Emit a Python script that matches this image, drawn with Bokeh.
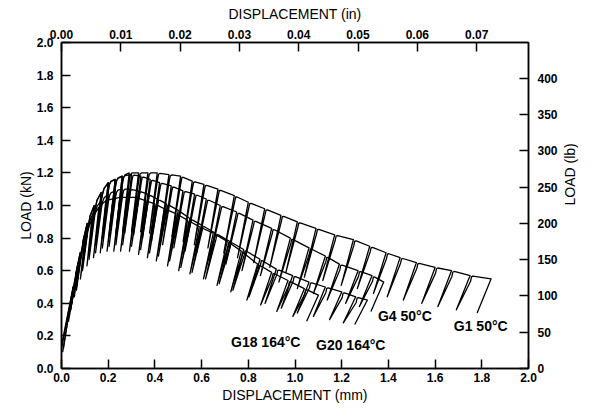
import math
from bokeh.plotting import figure
from bokeh.models import Range1d, LinearAxis, FixedTicker, PrintfTickFormatter, ColumnDataSource
from bokeh.core.properties import value
from bokeh.embed import file_html
from bokeh.resources import INLINE

# ---------------- data ----------------
mm_ticks = [0.0, 0.2, 0.4, 0.6, 0.8, 1.0, 1.2, 1.4, 1.6, 1.8, 2.0]
kn_ticks = [0.0, 0.2, 0.4, 0.6, 0.8, 1.0, 1.2, 1.4, 1.6, 1.8, 2.0]
in_ticks = [0.00, 0.01, 0.02, 0.03, 0.04, 0.05, 0.06, 0.07]
lb_ticks = [0, 50, 100, 150, 200, 250, 300, 350, 400]

# G1 50°C
g1_start = (0.0, 0.12)
g1_peak_x = [0.05, 0.08, 0.11, 0.14, 0.17, 0.20, 0.23, 0.26, 0.29, 0.33, 0.37, 0.41, 0.46, 0.51, 0.56, 0.61, 0.67,
             0.74, 0.80, 0.87, 0.94, 1.01, 1.09, 1.17, 1.25, 1.32, 1.39, 1.45, 1.52, 1.60, 1.67, 1.75, 1.84]
g1_peak_y = [0.50, 0.71, 0.89, 1.00, 1.08, 1.14, 1.16, 1.18, 1.20, 1.20, 1.20, 1.20, 1.19, 1.18, 1.15, 1.13, 1.10,
             1.06, 1.02, 0.98, 0.94, 0.90, 0.86, 0.82, 0.79, 0.75, 0.71, 0.68, 0.65, 0.62, 0.60, 0.57, 0.55]
g1_trough_x = [0.038, 0.064, 0.09, 0.118, 0.146, 0.175, 0.204, 0.233, 0.262, 0.30, 0.339, 0.377, 0.425, 0.473,
               0.521, 0.569, 0.627, 0.695, 0.754, 0.823, 0.892, 0.961, 1.04, 1.119, 1.198, 1.267, 1.336, 1.395,
               1.464, 1.543, 1.612, 1.691, 1.78]
g1_trough_y = [0.36, 0.50, 0.62, 0.70, 0.76, 0.80, 0.82, 0.83, 0.84, 0.84, 0.84, 0.83, 0.82, 0.81, 0.78, 0.76, 0.74,
               0.71, 0.68, 0.65, 0.62, 0.59, 0.56, 0.54, 0.51, 0.49, 0.46, 0.44, 0.42, 0.40, 0.38, 0.36, 0.34]

# G4 50°C
g4_start = (0.005, 0.10)
g4_peak_x = [0.05, 0.08, 0.11, 0.14, 0.17, 0.20, 0.23, 0.26, 0.30, 0.34, 0.38, 0.42, 0.47, 0.52, 0.57, 0.62, 0.68,
             0.75, 0.82, 0.90, 0.98, 1.06, 1.13, 1.19, 1.27, 1.33, 1.38]
g4_peak_y = [0.50, 0.71, 0.89, 1.00, 1.08, 1.14, 1.16, 1.18, 1.19, 1.18, 1.16, 1.14, 1.12, 1.09, 1.07, 1.04, 1.00,
             0.96, 0.91, 0.86, 0.80, 0.74, 0.69, 0.64, 0.60, 0.57, 0.53]
g4_trough_x = [0.038, 0.064, 0.09, 0.118, 0.146, 0.175, 0.204, 0.233, 0.271, 0.309, 0.347, 0.385, 0.433, 0.481,
               0.529, 0.577, 0.635, 0.704, 0.773, 0.852, 0.931, 1.01, 1.079, 1.138, 1.217, 1.276, 1.325]
g4_trough_y = [0.36, 0.50, 0.62, 0.70, 0.76, 0.80, 0.81, 0.82, 0.83, 0.82, 0.80, 0.78, 0.76, 0.74, 0.72, 0.70, 0.67,
               0.64, 0.60, 0.57, 0.53, 0.49, 0.46, 0.42, 0.40, 0.38, 0.35]

# G20 164°C
g20_start = (0.0, 0.14)
g20_peak_x = [0.05, 0.08, 0.11, 0.14, 0.17, 0.20, 0.23, 0.26, 0.29, 0.33, 0.37, 0.41, 0.45, 0.50, 0.55, 0.60, 0.66,
              0.72, 0.78, 0.85, 0.92, 0.99, 1.06, 1.13, 1.20, 1.26, 1.31]
g20_peak_y = [0.50, 0.70, 0.87, 0.97, 1.03, 1.07, 1.09, 1.10, 1.10, 1.09, 1.07, 1.04, 1.01, 0.97, 0.92, 0.88, 0.83,
              0.78, 0.73, 0.67, 0.61, 0.57, 0.53, 0.50, 0.47, 0.44, 0.42]
g20_trough_x = [0.038, 0.064, 0.09, 0.118, 0.146, 0.175, 0.204, 0.233, 0.262, 0.30, 0.339, 0.377, 0.415, 0.463,
                0.511, 0.559, 0.617, 0.675, 0.734, 0.803, 0.872, 0.941, 1.01, 1.079, 1.148, 1.207, 1.256]
g20_trough_y = [0.35, 0.48, 0.60, 0.67, 0.71, 0.74, 0.75, 0.76, 0.76, 0.75, 0.73, 0.71, 0.69, 0.66, 0.62, 0.59, 0.55,
                0.52, 0.48, 0.44, 0.40, 0.37, 0.34, 0.32, 0.30, 0.28, 0.27]

# G18 164°C
g18_start = (0.008, 0.12)
g18_peak_x = [0.04, 0.07, 0.10, 0.13, 0.16, 0.19, 0.22, 0.25, 0.28, 0.32, 0.36, 0.40, 0.44, 0.49, 0.54, 0.59, 0.65,
              0.71, 0.77, 0.84, 0.90, 0.97, 1.04, 1.10]
g18_peak_y = [0.42, 0.64, 0.80, 0.92, 0.99, 1.03, 1.04, 1.05, 1.05, 1.05, 1.03, 1.01, 0.98, 0.95, 0.91, 0.87, 0.83,
              0.78, 0.72, 0.64, 0.59, 0.54, 0.49, 0.45]
g18_trough_x = [0.03, 0.055, 0.081, 0.109, 0.137, 0.166, 0.195, 0.224, 0.253, 0.291, 0.33, 0.368, 0.406, 0.454,
                0.502, 0.55, 0.608, 0.666, 0.725, 0.794, 0.853, 0.922, 0.991, 1.05]
g18_trough_y = [0.29, 0.44, 0.55, 0.63, 0.68, 0.71, 0.72, 0.72, 0.72, 0.72, 0.70, 0.68, 0.66, 0.63, 0.60, 0.58, 0.55,
                0.51, 0.47, 0.42, 0.39, 0.35, 0.32, 0.29]

label_text = ["G18 164°C", "G20 164°C", "G4 50°C", "G1 50°C"]
label_x = [0.726, 1.09, 1.355, 1.68]
label_y = [0.16, 0.147, 0.32, 0.262]

KN_TO_LB = 224.809
MM_PER_IN = 25.4


def build_path(start, px, py, tx, ty):
    xs = [start[0]]
    ys = [start[1]]
    for i in range(len(px)):
        if i > 0:
            x0, y0 = px[i - 1], py[i - 1]
            # reload back to the envelope with a rounded shoulder
            xs += [x0 + 0.002, x0 + 0.006, x0 + 0.012]
            ys += [y0 - 0.035, y0 - 0.008, y0 + (py[i] - y0) * 0.012 / max(px[i] - x0, 1e-6)]
        xs.append(px[i])
        ys.append(py[i])
        xs.append(tx[i])
        ys.append(ty[i])
    return xs, ys


p = figure(width=588, height=406, x_range=Range1d(0, 2), y_range=Range1d(0, 2),
           output_backend="svg", toolbar_location=None,
           min_border_left=61, min_border_right=56, min_border_top=42, min_border_bottom=38)
p.grid.visible = False
p.outline_line_color = "black"
p.outline_line_width = 1.5
p.background_fill_color = "white"
p.border_fill_color = "white"

p.extra_x_ranges = {"inch": Range1d(0, 2 / MM_PER_IN)}
p.extra_y_ranges = {"lb": Range1d(0, 2 * KN_TO_LB)}

bottom = p.below[0]
left = p.left[0]
bottom.ticker = FixedTicker(ticks=mm_ticks)
bottom.formatter = PrintfTickFormatter(format="%.1f")
bottom.axis_label = "DISPLACEMENT (mm)"
left.ticker = FixedTicker(ticks=kn_ticks)
left.formatter = PrintfTickFormatter(format="%.1f")
left.axis_label = "LOAD (kN)"

top = LinearAxis(x_range_name="inch", ticker=FixedTicker(ticks=in_ticks),
                 formatter=PrintfTickFormatter(format="%.2f"), axis_label="DISPLACEMENT (in)")
p.add_layout(top, "above")
right = LinearAxis(y_range_name="lb", ticker=FixedTicker(ticks=lb_ticks),
                   formatter=PrintfTickFormatter(format="%d"), axis_label="LOAD (lb)")
p.add_layout(right, "right")
if hasattr(right, "axis_label_orientation"):
    right.axis_label_orientation = math.pi / 2

FONT = "Liberation Sans"
for ax in [bottom, left, top, right]:
    ax.major_tick_in = 9
    ax.major_tick_out = 0
    ax.minor_tick_in = 0
    ax.minor_tick_out = 0
    ax.axis_line_width = 1.5
    ax.axis_line_color = "black"
    ax.major_tick_line_width = 1.5
    ax.major_tick_line_color = "black"
    ax.major_label_text_font = FONT
    ax.major_label_text_font_style = "bold"
    ax.major_label_text_font_size = "12px"
    ax.major_label_text_color = "black"
    ax.axis_label_text_font = FONT
    ax.axis_label_text_font_style = "normal"
    ax.axis_label_text_font_size = "14px"
    ax.axis_label_text_color = "black"

bottom.major_label_standoff = 4
bottom.axis_label_standoff = 2
left.major_label_standoff = 8
left.axis_label_standoff = 0
top.major_label_standoff = 4
top.axis_label_standoff = 5
right.major_label_standoff = 9
right.axis_label_standoff = 9

for start, px, py, tx, ty in [
    (g1_start, g1_peak_x, g1_peak_y, g1_trough_x, g1_trough_y),
    (g4_start, g4_peak_x, g4_peak_y, g4_trough_x, g4_trough_y),
    (g20_start, g20_peak_x, g20_peak_y, g20_trough_x, g20_trough_y),
    (g18_start, g18_peak_x, g18_peak_y, g18_trough_x, g18_trough_y),
]:
    xs, ys = build_path(start, px, py, tx, ty)
    p.line(xs, ys, line_color="black", line_width=1.3, line_join="round")

lsrc = ColumnDataSource(dict(x=label_x, y=label_y, t=label_text))
p.text(x="x", y="y", text="t", source=lsrc, text_font=value(FONT), text_font_size="14px",
       text_font_style="bold", text_baseline="middle", text_align="left", text_color="black")

open("out.html", "w").write(file_html(p, INLINE))
